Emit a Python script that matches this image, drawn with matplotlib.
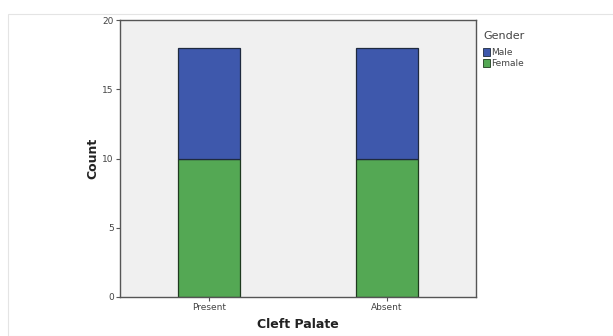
import matplotlib
matplotlib.use("Agg")
import matplotlib.pyplot as plt
from matplotlib.patches import Rectangle, Patch

categories = ["Present", "Absent"]
female = [10, 10]
male = [8, 8]
series_names = ["Male", "Female"]
yticks = [0, 5, 10, 15, 20]

fig = plt.figure(figsize=(6.13, 3.36), dpi=100)
W, H = 613, 336
ax = fig.add_axes([120 / W, 1 - 297 / H, 356 / W, 277 / H])
ax.set_facecolor("#f0f0f0")

x = list(range(len(categories)))
ax.bar(x, female, width=0.35, color="#54a854", edgecolor="#1f3a1f", linewidth=0.9)
ax.bar(x, male, bottom=female, width=0.35, color="#3e58ac", edgecolor="#1f2a3f", linewidth=0.9)

ax.set_xlim(-0.5, 1.5)
ax.set_ylim(0, 20)
ax.set_yticks(yticks)
ax.set_yticklabels([str(t) for t in yticks], fontsize=6.5, color="#444444")
ax.set_xticks(x)
ax.set_xticklabels(categories, fontsize=6.5, color="#444444")
ax.tick_params(axis="both", direction="out", length=3, width=0.8, color="#555555", pad=1.5)
for s in ax.spines.values():
    s.set_color("#555555")
    s.set_linewidth(1.0)

ax.set_ylabel("Count", fontsize=9, fontweight="bold", color="#222222", labelpad=2)
ax.set_xlabel("Cleft Palate", fontsize=9, fontweight="bold", color="#222222", labelpad=4)

handles = [Patch(facecolor="#3e58ac", edgecolor="#1f2a3f", linewidth=0.6),
           Patch(facecolor="#54a854", edgecolor="#1f3a1f", linewidth=0.6)]
leg = fig.legend(handles, series_names, title="Gender", loc="upper left",
                 bbox_to_anchor=(483 / W, 1 - 31 / H), frameon=False,
                 fontsize=6.5, title_fontsize=8, handlelength=0.8, handleheight=1.0,
                 handletextpad=0.1, labelspacing=0.2, borderaxespad=0, borderpad=0)
leg._legend_box.align = "left"
leg._legend_box.sep = 5
for t in leg.get_texts():
    t.set_color("#444444")
leg.get_title().set_color("#444444")

fig.patches.append(Rectangle((8 / W, 0), 1.2, 1 - 14 / H, transform=fig.transFigure,
                             fill=False, edgecolor="#e4e4e4", linewidth=0.8))

fig.savefig("out.png", dpi=100)
